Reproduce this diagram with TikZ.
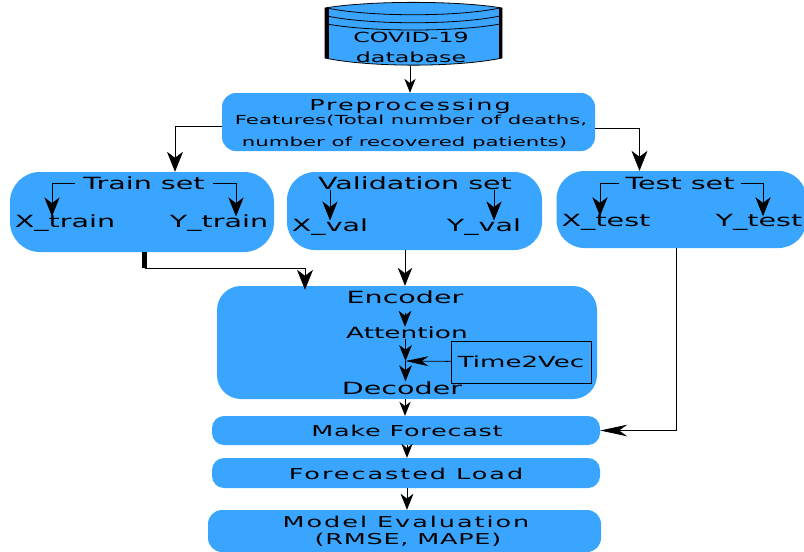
\documentclass[tikz,border=0pt]{standalone}
\usepackage{fontspec}
\newfontfamily\widefont[FakeStretch=1.7]{DejaVu Sans}
\newfontfamily\spacedfont[FakeStretch=1.7,LetterSpace=13]{DejaVu Sans}
\newfontfamily\tightfont[FakeStretch=1.7,LetterSpace=5]{DejaVu Sans}
\usetikzlibrary{arrows.meta,positioning}
\definecolor{boxblue}{HTML}{3AA5FF}
\tikzset{
    box/.style={fill=boxblue,rectangle,inner sep=0pt},
    word/.style={inner sep=0pt,font=\widefont\fontsize{16.8}{17}\selectfont},
    spaced/.style={inner sep=0pt,font=\spacedfont\fontsize{15}{15}\selectfont},
    tight/.style={inner sep=0pt,font=\tightfont\fontsize{15}{15}\selectfont},
    arrowed/.style={-{Stealth[length=#1,width=0.8*#1,inset=0.3*#1]},line width=0.8pt},
    slim/.style={-{Stealth[length=#1,width=0.43*#1,inset=0.3*#1]},line width=0.8pt},
    hv/.style={to path={-| (\tikztotarget) \tikztonodes}},
    vh/.style={to path={|- (\tikztotarget) \tikztonodes}}
}
\begin{document}
\begin{tikzpicture}[x=1pt,y=1pt,on grid]
            \useasboundingbox (0,0) rectangle (804,-552);
            % the database drum
            \draw[fill=boxblue,line width=0.8pt] (325,-8) .. controls (370,-0.5) and (457,-0.5) .. (502,-8)
                -- (502,-58) .. controls (457,-67.5) and (370,-67.5) .. (325,-58) -- cycle;
            \draw[line width=0.8pt] (327,-8) .. controls (370,-17) and (457,-17) .. (500,-8);
            \draw[line width=0.8pt] (327,-16) .. controls (370,-25) and (457,-25) .. (500,-16);
            \draw[line width=0.8pt] (327,-24) .. controls (370,-32) and (457,-32) .. (500,-24);
            \draw[line width=3.5pt] (326.75,-8) -- (326.75,-58);
            \draw[line width=3.5pt] (500.25,-8) -- (500.25,-58);
            \node[minimum width=177pt,minimum height=65pt,inner sep=0pt] (db) at (413.5,-33.5) {};
            \node[inner sep=0pt,align=center,font=\widefont\fontsize{14}{14}\selectfont] (db_name) at (411,-47) {COVID-19\\[6pt]database};
            % preprocessing
            \node[box,rounded corners=14pt,minimum width=373pt,minimum height=58pt] (prep) [below=88.5pt of db,xshift=-5pt] {};
            \node[spaced] (prep_name) at (410,-106) {Preprocessing};
            \node[inner sep=0pt,align=left,font=\widefont\fontsize{12.5}{13}\selectfont] (prep_text) at (411,-132) {Features(Total number of deaths,\\[9pt]\hspace*{7pt}number of recovered patients)};
            % data sets
            \node[box,rounded corners=30pt,minimum width=264pt,minimum height=80pt] (train) at (142,-212) {};
            \node[box,rounded corners=28pt,minimum width=255pt,minimum height=78pt] (val) [right=272.5pt of train,yshift=1pt] {};
            \node[box,rounded corners=28pt,minimum width=250pt,minimum height=77pt] (test) [right=267pt of val,yshift=1.5pt] {};
            \node[word] (train_name) at (144,-183) {Train set};
            \node[word] (x_train) at (65,-223) {X\_train};
            \node[word] (y_train) at (219,-223) {Y\_train};
            \node[word] (val_name) at (415,-183) {Validation set};
            \node[word] (x_val) at (330,-227) {X\_val};
            \node[word] (y_val) at (484,-227) {Y\_val};
            \node[word] (test_name) at (680,-183) {Test set};
            \node[word] (x_test) at (606,-222.5) {X\_test};
            \node[word] (y_test) at (759,-222.5) {Y\_test};
            % model
            \node[box,rounded corners=24pt,minimum width=380pt,minimum height=113pt] (model) at (407,-342.5) {};
            \node[word] (encoder) at (405,-297) {Encoder};
            \node[word,font=\widefont\fontsize{15.5}{16}\selectfont] (attention) at (407,-333) {Attention};
            \node[word] (decoder) at (402,-388) {Decoder};
            \node[draw,inner sep=0pt,line width=0.8pt,minimum width=140pt,minimum height=42pt,font=\widefont\fontsize{15.3}{15.3}\selectfont] (time) at (521,-362) {Time2Vec};
            \coordinate (merge) at (405.5,-361);
            % bottom boxes
            \node[box,rounded corners=12pt,minimum width=388pt,minimum height=29pt] (forecast) at (406,-430.5) {};
            \node[tight] (forecast_name) at (407,-430.5) {Make Forecast};
            \node[box,rounded corners=12pt,minimum width=388pt,minimum height=30pt] (load) [below=42.5pt of forecast] {};
            \node[spaced] (load_name) at (406,-474) {Forecasted Load};
            \node[box,rounded corners=14pt,minimum width=393pt,minimum height=42pt] (eval) at (404.5,-531) {};
            \node[spaced] (eval_name) at (406,-521.5) {Model Evaluation};
            \node[tight] (eval_metrics) [below=18pt of eval_name,xshift=2pt] {(RMSE, MAPE)};
            % connectors
            \coordinate (train_out) at (144.5,-268);
            \draw[line width=4.5pt] (train.south -| train_out) -- (train_out);
            \path
                (db.south -| prep_name) edge[arrowed=14pt] (prep.north -| prep_name)
                ([yshift=-4pt]prep.west) edge[arrowed=20pt,hv] ([xshift=33pt]train.north)
                ([yshift=-6pt]prep.east) edge[arrowed=20pt,hv] ([xshift=-42pt]test.north)
                (train_name.west) edge[arrowed=19pt,hv,shorten <=8pt] ([xshift=-13pt,yshift=-2pt]x_train.north)
                (train_name.east) edge[arrowed=19pt,hv,shorten <=8pt] ([xshift=17pt,yshift=-2pt]y_train.north)
                (val_name.south -| x_val) edge[arrowed=19pt] ([yshift=-2pt]x_val.north)
                ([xshift=10pt]val_name.south -| y_val) edge[arrowed=19pt] ([xshift=10pt,yshift=-2pt]y_val.north)
                (test_name.west) edge[arrowed=19pt,hv,shorten <=6pt] ([xshift=-6pt,yshift=-2pt]x_test.north)
                (test_name.east) edge[arrowed=19pt,hv,shorten <=6pt] ([xshift=4pt,yshift=-2pt]y_test.north)
                (train_out) edge[arrowed=20pt,hv] ([xshift=-102pt,yshift=-4pt]model.north)
                (val.south -| encoder) edge[arrowed=18pt] (model.north -| encoder)
                (encoder) edge[arrowed=16pt,shorten <=9pt] (attention.north -| encoder)
                (attention.south -| merge) edge[arrowed=16pt] (merge)
                (time) edge[slim=23pt] (merge)
                (merge) edge[arrowed=16pt] (decoder.north -| merge)
                (model.south -| encoder) edge[arrowed=14pt] (forecast.north -| encoder)
                (forecast.south -| forecast_name) edge[arrowed=14pt] (load.north -| forecast_name)
                (load.south -| forecast_name) edge[arrowed=16pt] (eval.north -| forecast_name)
                ([xshift=-5pt]test.south) edge[slim=27pt,vh] (forecast.east);
\end{tikzpicture}
\end{document}
